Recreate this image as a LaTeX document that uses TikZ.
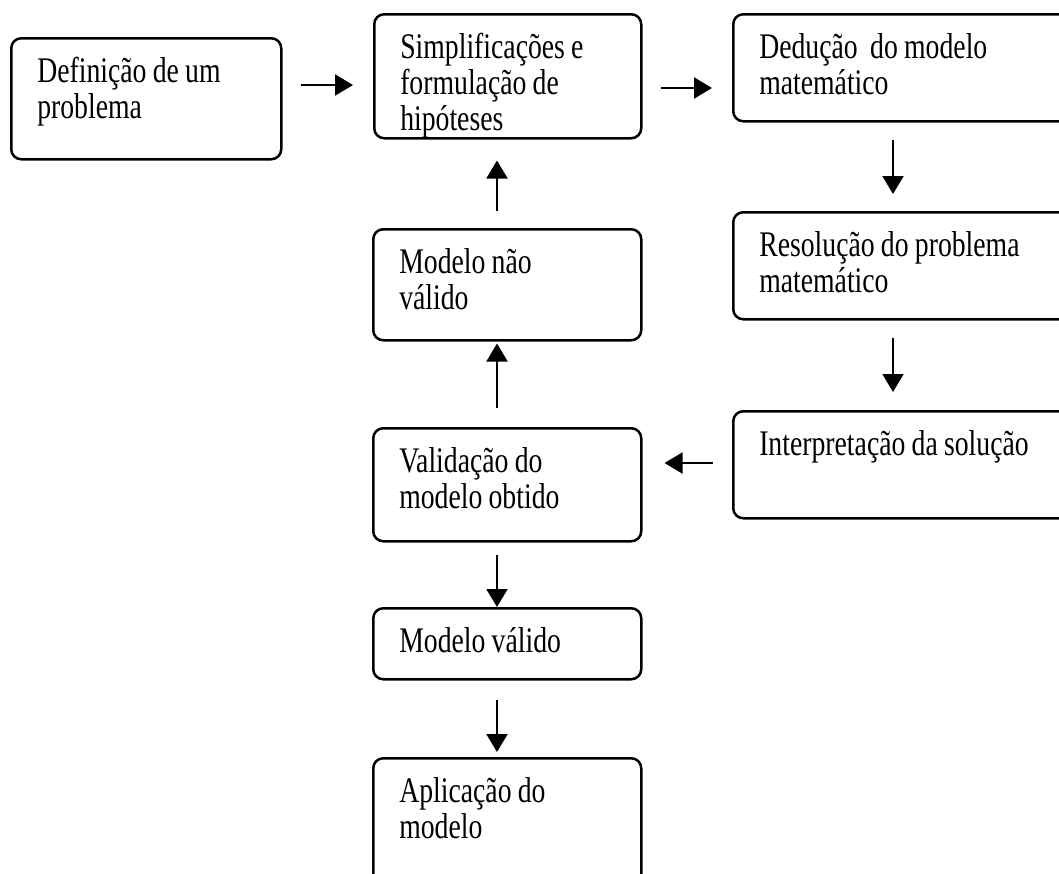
\documentclass[tikz,border=0pt]{standalone}
\usepackage{fontspec}
\setmainfont{Liberation Serif}[FakeStretch=0.77, WordSpace=0.9]
\usetikzlibrary{calc,arrows.meta}
\tikzset{
	caixa/.style={draw, line width=2.5pt, rounded corners=10pt, anchor=north west, inner xsep=26pt, inner ysep=0pt, text height=44pt, align=flush left, text width=216pt, font=\fontsize{36}{36}\selectfont},
	seta/.style={line width=2pt, -{Triangle[length=18pt, width=21pt]}}
}

\begin{document}
\begin{tikzpicture}[x=1pt, y=-1pt]
		%%%%% START %%%%%
		\useasboundingbox (0, 0) rectangle (1059, 873);
		\clip (0, 0) rectangle (1059, 873);
		
		\node[caixa, text width=218pt, text depth=77pt] (def) at (10, 37) {Definição de um\\problema};
		\node[caixa, text width=215pt, text depth=80pt] (simp) at (373, 13) {Simplificações e\\formulação de\\hipóteses};
		\node[caixa, text width=348pt, text depth=63pt] (ded) at (732, 13) {Dedução\ \ do modelo\\matemático};
		\node[caixa, text width=348pt, text depth=63pt] (res) at (732, 211) {Resolução do problema\\matemático};
		\node[caixa, text width=348pt, text depth=63pt] (interp) at (732, 410) {Interpretação da solução};
		
		\node[caixa, text depth=67pt] (nval) at (372, 228) {Modelo não\\válido};
		\node[caixa, text depth=69pt] (valid) at (372, 427) {Validação do\\modelo obtido};
		\node[caixa, text depth=27pt] (mval) at (372, 607) {Modelo válido};
		\node[caixa, text depth=96pt] (aplic) at (372, 757) {Aplicação do\\modelo};
		
		\draw[seta] ($(def.north east)+(18, 48)$) -- ($(simp.north west)+(-20, 72)$);
		\draw[seta] ($(simp.north east)+(18, 75)$) -- ($(ded.north west)+(-20, 75)$);
		\draw[seta] ($(ded.south west)+(161, 17)$) -- ($(res.north west)+(161, -17)$);
		\draw[seta] ($(res.south west)+(161, 17)$) -- ($(interp.north west)+(161, -18)$);
		\draw[seta] ($(interp.north west)+(-19, 53)$) -- ($(valid.north east)+(22, 36)$);
		
		\draw[seta] ($(valid.north west)+(125, -19)$) -- ($(nval.south west)+(125, 2)$);
		\draw[seta] ($(nval.north west)+(125, -17)$) -- ($(simp.south west)+(124, 21)$);
		\draw[seta] ($(valid.south west)+(125, 12)$) -- ($(mval.north west)+(125, 0)$);
		\draw[seta] ($(mval.south west)+(125, 19)$) -- ($(aplic.north west)+(125, -5)$);
		%%%%% END %%%%%
\end{tikzpicture}
\end{document}
